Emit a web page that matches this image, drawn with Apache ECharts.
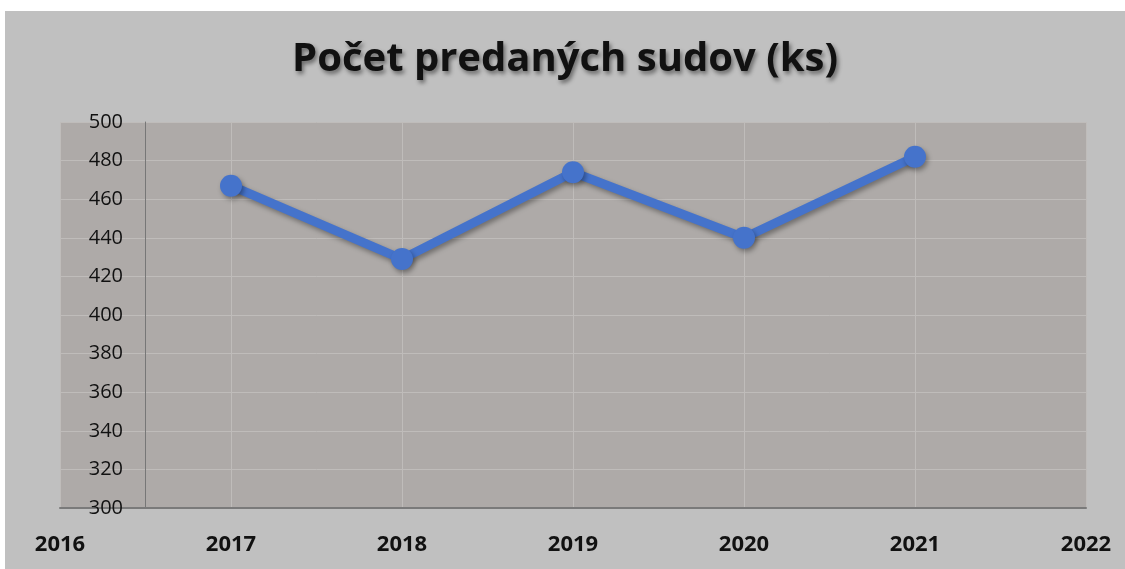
<!DOCTYPE html>
<html>
<head>
<meta charset="utf-8">
<script src="https://cdn.jsdelivr.net/npm/echarts@6/dist/echarts.min.js"></script>
<style>
html,body{margin:0;padding:0;background:#ffffff;width:1125px;height:569px;overflow:hidden;}
#chart{position:absolute;left:5px;top:11px;width:1120px;height:558px;}
</style>
</head>
<body>
<div id="chart"></div>
<script>
const title = 'Počet predaných sudov (ks)';
const years = [2017, 2018, 2019, 2020, 2021];
const sold = [467, 429, 474, 440, 482];
const xMin = 2016, xMax = 2022;
const yMin = 300, yMax = 500, yStep = 20;

const chart = echarts.init(document.getElementById('chart'));
chart.setOption({
  backgroundColor: '#c0c0c0',
  animation: false,
  title: {
    text: title,
    left: 'center',
    top: 24,
    textStyle: {
      fontFamily: 'Open Sans',
      fontWeight: 'bold',
      fontSize: 40,
      color: '#111111',
      textShadowColor: 'rgba(0,0,0,0.45)',
      textShadowBlur: 4,
      textShadowOffsetX: 2,
      textShadowOffsetY: 3
    }
  },
  grid: {
    left: 55, right: 39, top: 111, bottom: 61,
    show: true, backgroundColor: '#aeaaa8', borderWidth: 0
  },
  xAxis: {
    type: 'value',
    min: xMin, max: xMax, interval: 1,
    axisLine: { show: true, lineStyle: { color: '#7a7a7a', width: 2 } },
    axisTick: { show: false },
    splitLine: { show: true, lineStyle: { color: '#bfbcba', width: 1 } },
    axisLabel: {
      margin: 26,
      showMinLabel: true, showMaxLabel: true,
      color: '#111111',
      fontFamily: 'Open Sans',
      fontWeight: 'bold',
      fontSize: 22,
      formatter: v => String(v)
    }
  },
  yAxis: {
    type: 'value',
    min: yMin, max: yMax, interval: yStep,
    offset: -85,
    axisLine: { show: true, lineStyle: { color: '#777777', width: 1 } },
    axisTick: { show: false },
    splitLine: { show: true, lineStyle: { color: '#bfbcba', width: 1 } },
    axisLabel: {
      margin: 22,
      color: '#111111',
      fontFamily: 'Open Sans',
      fontSize: 20
    }
  },
  series: [{
    type: 'line',
    data: years.map((y, i) => [y, sold[i]]),
    symbol: 'circle',
    symbolSize: 22,
    lineStyle: {
      color: '#4573cb', width: 9,
      shadowColor: 'rgba(0,0,0,0.35)', shadowBlur: 5, shadowOffsetX: 2, shadowOffsetY: 3
    },
    itemStyle: {
      color: '#4573cb',
      shadowColor: 'rgba(0,0,0,0.35)', shadowBlur: 5, shadowOffsetX: 2, shadowOffsetY: 3
    }
  }]
});
</script>
</body>
</html>
